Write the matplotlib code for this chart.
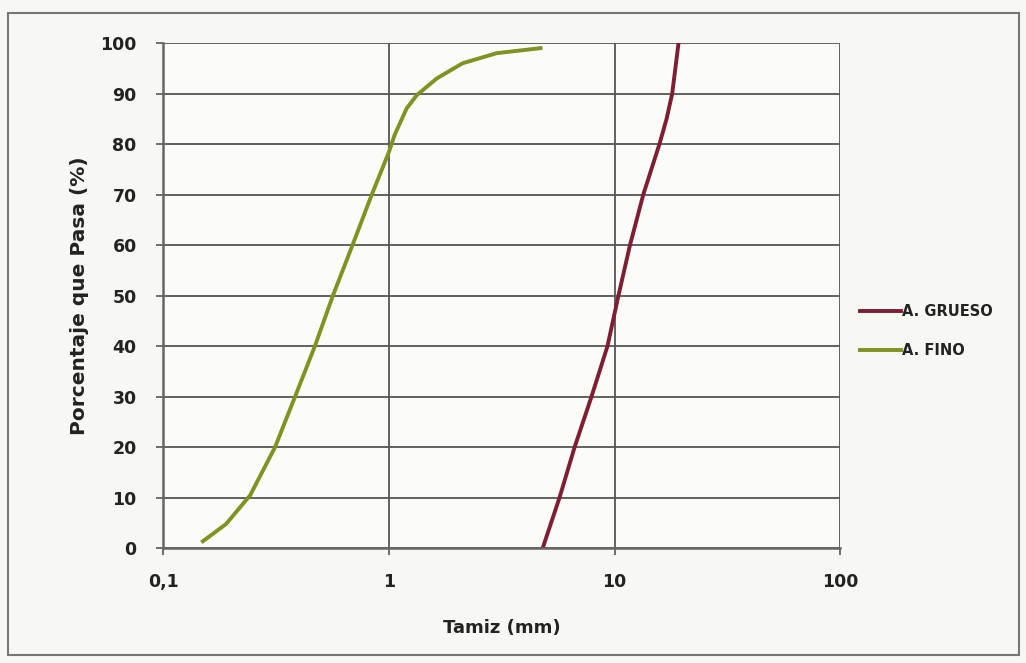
import matplotlib
matplotlib.use("Agg")
import matplotlib.pyplot as plt
from matplotlib.patches import Rectangle
from matplotlib.ticker import FixedLocator, NullLocator

fino_tamiz = [0.15, 0.19, 0.243, 0.313, 0.384, 0.47, 0.565, 0.69, 0.84, 1.0, 1.06,
              1.2, 1.33, 1.63, 2.12, 3.0, 4.7]
fino_pasa = [1.4, 4.8, 10.5, 20, 30, 40, 50, 60, 70, 78.4, 81.8,
             87.1, 89.7, 93, 96, 98, 99]

grueso_tamiz = [4.8, 5.7, 6.65, 7.9, 9.3, 10.4, 11.7, 13.4, 15.8, 17.0, 18.0, 19.2]
grueso_pasa = [0, 10, 20, 30, 40, 50, 60, 70, 80, 85, 90, 100]

x_ticks = [0.1, 1, 10, 100]
x_labels = ["0,1", "1", "10", "100"]
y_ticks = list(range(0, 101, 10))

plt.rcParams['font.family'] = ['DejaVu Sans']

fig = plt.figure(figsize=(10.26, 6.63), dpi=100)
fig.patch.set_facecolor("#f7f8f4")
ax = fig.add_axes([0.159, 0.173, 0.66, 0.762])
ax.set_facecolor("#fbfcf8")

ax.plot(grueso_tamiz, grueso_pasa, color="#7d1e34", lw=2.8, label="A. GRUESO")
ax.plot(fino_tamiz, fino_pasa, color="#7f9222", lw=2.8, label="A. FINO")

ax.set_xscale("log")
ax.set_xlim(0.1, 100)
ax.set_ylim(0, 100)
ax.xaxis.set_major_locator(FixedLocator(x_ticks))
ax.xaxis.set_minor_locator(NullLocator())
ax.set_xticks(x_ticks)
ax.set_xticklabels(x_labels)
ax.set_yticks(y_ticks)
ax.grid(True, color="#555555", lw=1.3)
ax.set_axisbelow(True)
for s in ["top", "right"]:
    ax.spines[s].set_visible(False)
for s in ["left", "bottom"]:
    ax.spines[s].set_color("#666666")
    ax.spines[s].set_linewidth(1.8)
ax.tick_params(axis="both", labelsize=12.5, colors="#555555", length=5, width=1.2)
ax.tick_params(axis="x", pad=13)
ax.tick_params(axis="y", pad=14)
for lab in ax.get_xticklabels() + ax.get_yticklabels():
    lab.set_fontweight("bold")
    lab.set_color("#222222")

ax.set_xlabel("Tamiz (mm)", fontsize=13, fontweight="bold", color="#222222", labelpad=20)
ax.set_ylabel("Porcentaje que Pasa (%)", fontsize=14.5, fontweight="bold", color="#222222", labelpad=8)

leg = ax.legend(loc="center left", bbox_to_anchor=(1.01, 0.43), frameon=False,
                fontsize=10.5, handlelength=2.8, handletextpad=0.1, labelspacing=1.6)
for t in leg.get_texts():
    t.set_fontweight("bold")
    t.set_color("#222222")

fig.patches.append(Rectangle((0.008, 0.012), 0.985, 0.968, transform=fig.transFigure,
                             fill=False, edgecolor="#777777", lw=1.5))

fig.savefig("out.png", dpi=100, facecolor=fig.get_facecolor())
